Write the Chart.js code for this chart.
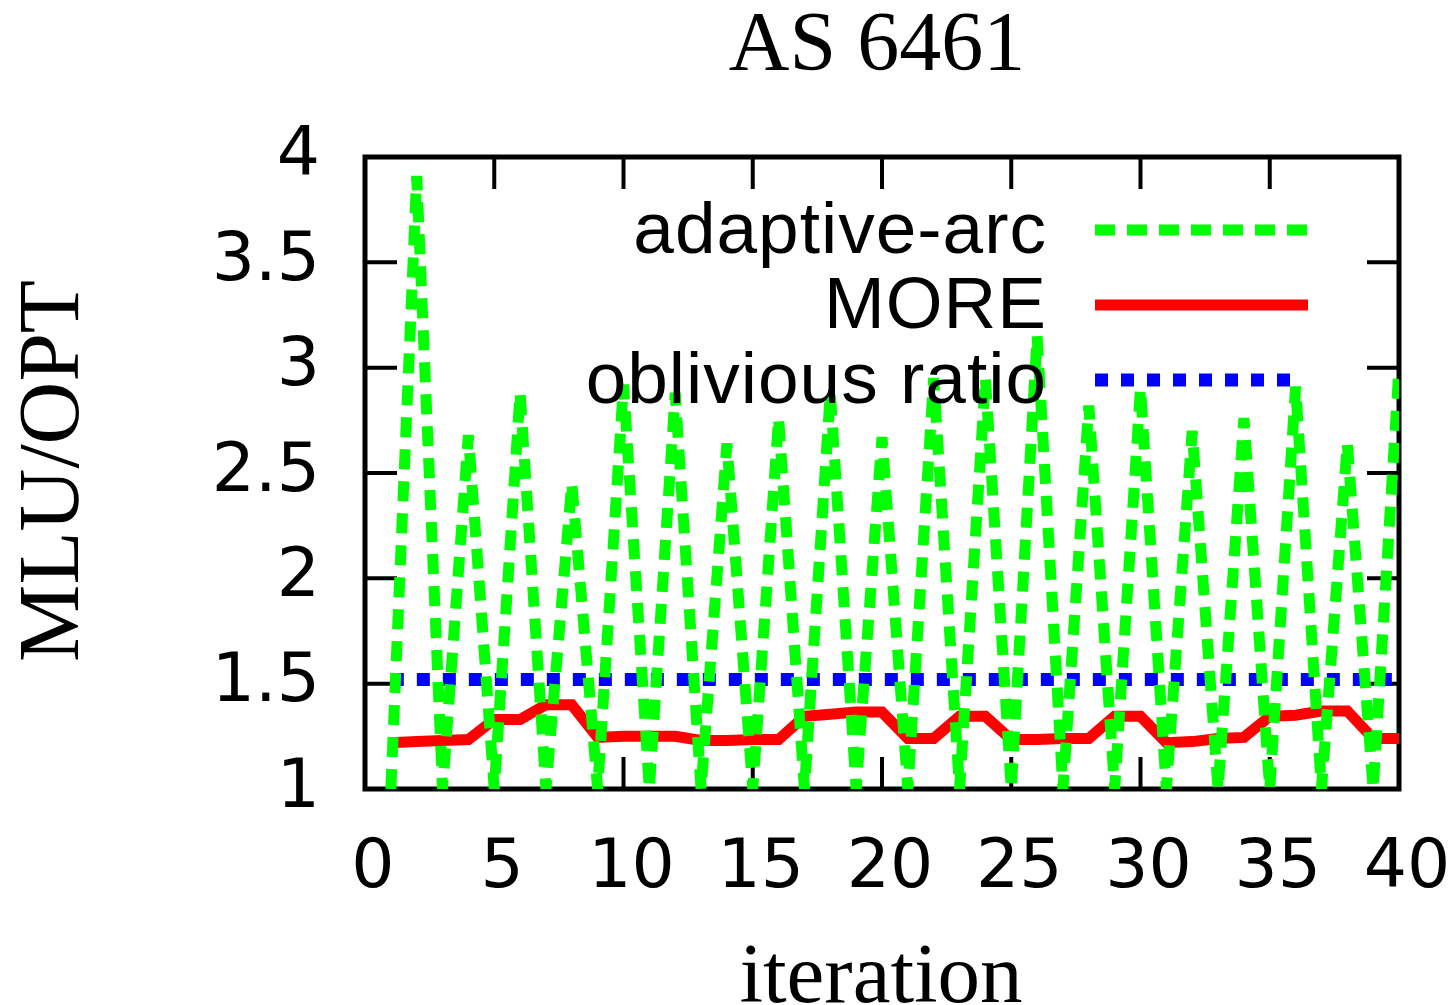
<!DOCTYPE html>
<html>
<head>
<meta charset="utf-8">
<title>AS 6461</title>
<script src="https://cdn.jsdelivr.net/npm/chart.js@4/dist/chart.umd.min.js"></script>
<style>
    html, body { margin: 0; padding: 0; background: #ffffff; }
    #chartWrap { width: 1453px; height: 1005px; }
</style>
</head>
<body>
<div id="chartWrap"><canvas id="mluChart" width="1453" height="1005"></canvas></div>
<script>
// ----------------------------------------------------
// Data
// ----------------------------------------------------
const iterations = [1, 2, 3, 4, 5, 6, 7, 8, 9, 10,
    11, 12, 13, 14, 15, 16, 17, 18, 19, 20,
    21, 22, 23, 24, 25, 26, 27, 28, 29, 30,
    31, 32, 33, 34, 35, 36, 37, 38, 39, 40];

const adaptiveArc = [1.0, 3.91, 1.0, 2.68, 1.0, 2.88, 1.0, 2.45, 1.0, 2.92,
    1.0, 2.88, 1.0, 2.64, 1.0, 2.76, 1.0, 2.88, 1.0, 2.67,
    1.0, 2.95, 1.0, 2.95, 1.0, 3.15, 1.0, 2.82, 1.0, 2.90,
    1.0, 2.70, 1.0, 2.76, 1.0, 2.91, 1.0, 2.64, 1.0, 3.0];

const more = [1.22, 1.225, 1.23, 1.235, 1.33, 1.33, 1.40, 1.40, 1.245, 1.25,
    1.25, 1.25, 1.23, 1.23, 1.235, 1.235, 1.345, 1.355, 1.365, 1.365,
    1.24, 1.24, 1.345, 1.345, 1.235, 1.235, 1.24, 1.24, 1.345, 1.345,
    1.22, 1.225, 1.24, 1.245, 1.345, 1.35, 1.37, 1.37, 1.24, 1.24];

const oblivious = [1.52, 1.52, 1.52, 1.52, 1.52, 1.52, 1.52, 1.52, 1.52, 1.52,
    1.52, 1.52, 1.52, 1.52, 1.52, 1.52, 1.52, 1.52, 1.52, 1.52,
    1.52, 1.52, 1.52, 1.52, 1.52, 1.52, 1.52, 1.52, 1.52, 1.52,
    1.52, 1.52, 1.52, 1.52, 1.52, 1.52, 1.52, 1.52, 1.52, 1.52];

const seriesNames = ["adaptive-arc", "MORE", "oblivious ratio"];
const xTicks = [0, 5, 10, 15, 20, 25, 30, 35, 40];
const yTicks = [1, 1.5, 2, 2.5, 3, 3.5, 4];

const chartTitle = "AS 6461";
const xTitle = "iteration";
const yTitle = "MLU/OPT";

document.addEventListener("DOMContentLoaded", () => {
    const toPoints = (values) => values.map((v, i) => ({ x: iterations[i], y: v }));

    // ----------------------------------------------------
    // Frame, inward ticks, titles (gnuplot look)
    // ----------------------------------------------------
    const framePlugin = {
        id: "frame",
        beforeDatasetsDraw(chart) {
            const { ctx, chartArea: a } = chart;
            const xs = chart.scales.x;
            const ys = chart.scales.y;
            const tickLen = 32;
            ctx.save();
            ctx.strokeStyle = "#000";
            ctx.lineWidth = 4;
            ctx.beginPath();
            xTicks.slice(1, -1).forEach(t => {
                const px = xs.getPixelForValue(t);
                ctx.moveTo(px, a.top); ctx.lineTo(px, a.top + tickLen);
                ctx.moveTo(px, a.bottom); ctx.lineTo(px, a.bottom - tickLen);
            });
            yTicks.slice(1, -1).forEach(t => {
                const py = ys.getPixelForValue(t);
                ctx.moveTo(a.left, py); ctx.lineTo(a.left + tickLen, py);
                ctx.moveTo(a.right, py); ctx.lineTo(a.right - tickLen, py);
            });
            ctx.stroke();
            ctx.lineWidth = 5;
            ctx.strokeRect(a.left, a.top, a.right - a.left, a.bottom - a.top);
            ctx.restore();
        },
        afterDraw(chart) {
            const { ctx } = chart;
            ctx.save();
            ctx.fillStyle = "#000";
            ctx.font = '84px "Liberation Serif"';
            ctx.textAlign = "center";
            ctx.textBaseline = "alphabetic";
            ctx.fillText(chartTitle, 877, 70);

            ctx.font = '85px "Liberation Serif"';
            ctx.fillText(xTitle, 881, 1002);

            ctx.font = '87px "Liberation Serif"';
            ctx.translate(78, 471);
            ctx.rotate(-Math.PI / 2);
            ctx.fillText(yTitle, 0, 0);
            ctx.restore();
        }
    };

    // ----------------------------------------------------
    // Key in the top right corner, text left of sample
    // ----------------------------------------------------
    const keyPlugin = {
        id: "key",
        afterDatasetsDraw(chart) {
            const { ctx } = chart;
            const rowsY = [230, 305, 380];
            ctx.save();
            chart.data.datasets.forEach((ds, i) => {
                const y = rowsY[i];
                ctx.fillStyle = "#000";
                ctx.font = '73px "Liberation Sans"';
                ctx.textAlign = "right";
                ctx.textBaseline = "alphabetic";
                ctx.letterSpacing = "1px";
                ctx.fillText(ds.label, 1047, y + 23);
                ctx.letterSpacing = "0px";

                ctx.strokeStyle = ds.borderColor;
                ctx.lineWidth = ds.borderWidth;
                ctx.lineCap = "butt";
                ctx.setLineDash(ds.borderDash || []);
                ctx.beginPath();
                ctx.moveTo(1095, y);
                ctx.lineTo(i === 2 ? 1295 : 1308, y);
                ctx.stroke();
            });
            ctx.restore();
        }
    };

    const ctx = document.getElementById("mluChart");

    new Chart(ctx, {
        type: "line",
        data: {
            datasets: [
                {
                    label: seriesNames[0],
                    data: toPoints(adaptiveArc),
                    borderColor: "#00ff00",
                    borderWidth: 11,
                    borderDash: [20, 12],
                    borderCapStyle: "butt"
                },
                {
                    label: seriesNames[1],
                    data: toPoints(more),
                    borderColor: "#ff0000",
                    borderWidth: 11
                },
                {
                    label: seriesNames[2],
                    data: toPoints(oblivious),
                    borderColor: "#0000ff",
                    borderWidth: 13,
                    borderDash: [13, 13],
                    borderCapStyle: "butt"
                }
            ]
        },
        options: {
            responsive: false,
            animation: false,
            devicePixelRatio: 1,
            layout: { padding: { top: 157, right: 54, bottom: 0, left: 0 } },
            elements: {
                point: { radius: 0 },
                line: { tension: 0, fill: false }
            },
            plugins: {
                legend: { display: false },
                title: { display: false },
                tooltip: { enabled: false }
            },
            scales: {
                x: {
                    type: "linear",
                    min: 0,
                    max: 40,
                    afterFit: (scale) => {
                        scale.height = 216;
                        scale.paddingLeft = 0;
                        scale.paddingRight = 0;
                    },
                    afterBuildTicks: (scale) => { scale.ticks = xTicks.map(v => ({ value: v })); },
                    grid: { display: false, drawTicks: false },
                    border: { display: false },
                    ticks: {
                        autoSkip: false,
                        maxRotation: 0,
                        padding: 40,
                        labelOffset: 8,
                        color: "#000",
                        font: { family: "DejaVu Sans", size: 68 }
                    }
                },
                y: {
                    type: "linear",
                    min: 1,
                    max: 4,
                    afterFit: (scale) => {
                        scale.width = 365;
                        scale.paddingTop = 0;
                        scale.paddingBottom = 0;
                    },
                    afterBuildTicks: (scale) => { scale.ticks = yTicks.map(v => ({ value: v })); },
                    grid: { display: false, drawTicks: false },
                    border: { display: false },
                    ticks: {
                        autoSkip: false,
                        padding: 45,
                        color: "#000",
                        font: { family: "DejaVu Sans", size: 68 },
                        callback: (value) => String(value)
                    }
                }
            }
        },
        plugins: [framePlugin, keyPlugin]
    });
});
</script>
</body>
</html>
